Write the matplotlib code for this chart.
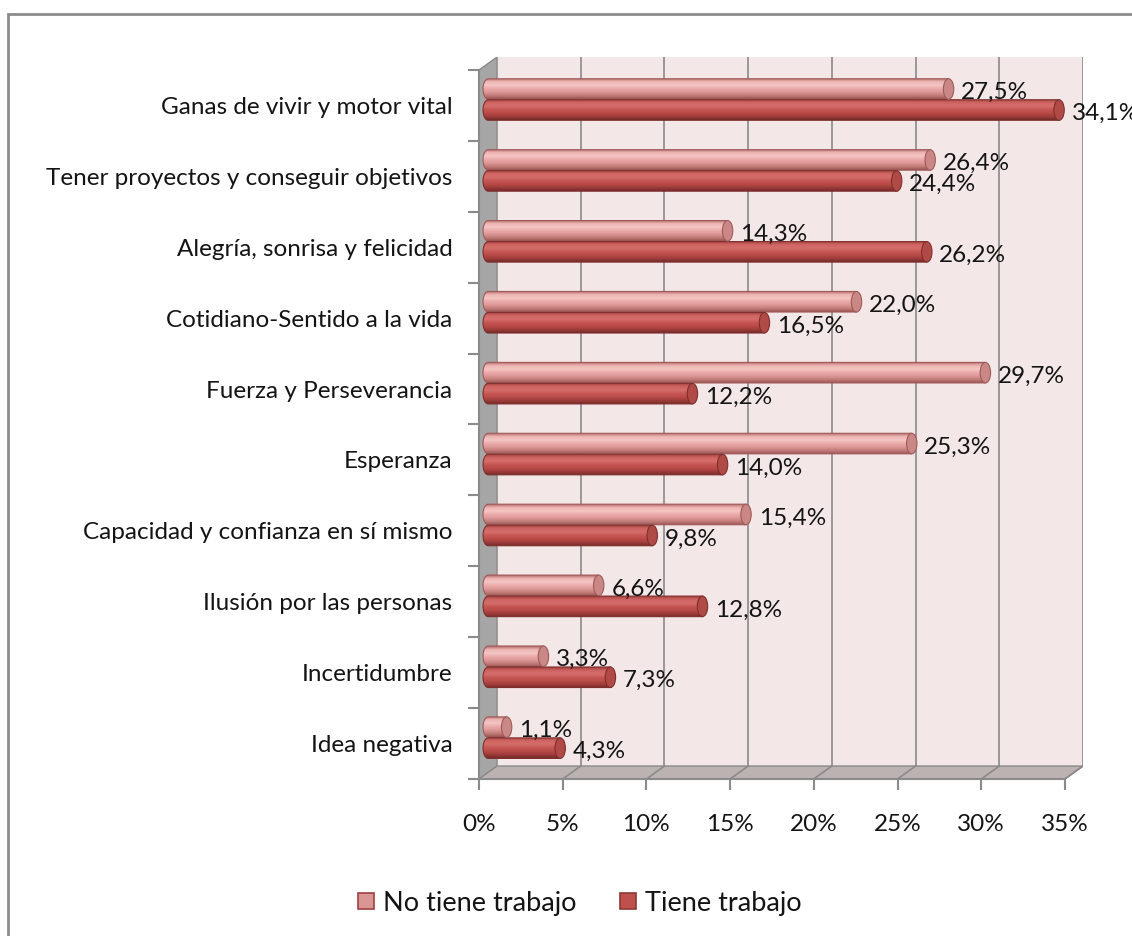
import numpy as np
import matplotlib
matplotlib.use('Agg')
import matplotlib.pyplot as plt
from matplotlib.patches import Polygon, Ellipse, PathPatch, Patch, Rectangle
from matplotlib.path import Path
from matplotlib.colors import LinearSegmentedColormap

plt.rcParams['font.family'] = ['Lato', 'DejaVu Sans']

# data, top to bottom as in the chart
categories = ['Ganas de vivir y motor vital',
              'Tener proyectos y conseguir objetivos',
              'Alegría, sonrisa y felicidad',
              'Cotidiano-Sentido a la vida',
              'Fuerza y Perseverancia',
              'Esperanza',
              'Capacidad y confianza en sí mismo',
              'Ilusión por las personas',
              'Incertidumbre',
              'Idea negativa']
no_trabajo = [27.5, 26.4, 14.3, 22.0, 29.7, 25.3, 15.4, 6.6, 3.3, 1.1]
si_trabajo = [34.1, 24.4, 26.2, 16.5, 12.2, 14.0, 9.8, 12.8, 7.3, 4.3]
series_names = ['No tiene trabajo', 'Tiene trabajo']
xticks = [0, 5, 10, 15, 20, 25, 30, 35]

FS = 17.5
TXT = '#141414'
GRID = '#8a8a8a'

# fake 3d depth (in data units)
DX, DY = 1.08, 0.183
XMAX = 35
n = len(categories)

fig = plt.figure(figsize=(11.32, 9.36), dpi=100)
ax = fig.add_axes([479/1132, 1-779/936, (1083-479)/1132, (779-57)/936])

y0, y1 = -0.5, n - 0.5
# walls
ax.add_patch(Polygon([(DX, y0+DY), (XMAX+DX, y0+DY), (XMAX+DX, y1+DY), (DX, y1+DY)],
                     closed=True, fc='#f4e7e7', ec='none', zorder=0))
ax.add_patch(Polygon([(0, y0), (DX, y0+DY), (DX, y1+DY), (0, y1)],
                     closed=True, fc='#a6a6a6', ec=GRID, lw=1, zorder=1))
ax.add_patch(Polygon([(0, y0), (XMAX, y0), (XMAX+DX, y0+DY), (DX, y0+DY)],
                     closed=True, fc='#bcb2b2', ec=GRID, lw=1, zorder=1))
for t in xticks[1:]:
    ax.plot([t+DX, t+DX], [y0+DY, y1+DY], color=GRID, lw=1.2, zorder=1)
    ax.plot([t, t+DX], [y0, y0+DY], color=GRID, lw=1.2, zorder=1)
ax.plot([0, XMAX], [y0, y0], color=GRID, lw=1.5, zorder=2, clip_on=False)
ax.plot([0, 0], [y0, y1], color=GRID, lw=1.5, zorder=2, clip_on=False)


def cylinder(x0, val, yc, h, grad, cap_fc, edge):
    cw = 0.62
    ang = np.linspace(np.pi/2, 3*np.pi/2, 30)
    pts = [(x0 + cw/2*np.cos(a), yc + h/2*np.sin(a)) for a in ang]
    pts += [(x0+val, yc-h/2), (x0+val, yc+h/2), pts[0]]
    path = Path(pts, closed=True)
    cmap = LinearSegmentedColormap.from_list('g', grad)
    img = cmap(np.linspace(0, 1, 120))[:, None, :3]
    im = ax.imshow(img, extent=[x0-cw/2, x0+val, yc-h/2, yc+h/2], origin='upper',
                   aspect='auto', interpolation='bilinear', zorder=3)
    pp = PathPatch(path, fc='none', ec=edge, lw=0.8, zorder=3.1)
    ax.add_patch(pp)
    im.set_clip_path(pp)
    ax.add_patch(Ellipse((x0+val, yc), cw, h, fc=cap_fc, ec=edge, lw=0.8, zorder=3.2))


pale_grad = ['#b06c6a', '#eeb5b4', '#f4c5c4', '#eaaaa9', '#dc9896', '#c27c7a', '#9a5553']
dark_grad = ['#a44240', '#cf6562', '#d56e6b', '#c65653', '#ba4b48', '#9e3d3b', '#742a28']

BX = 0.55
H = 0.29
for i, cat in enumerate(categories):
    yc = n - 1 - i
    yp = yc + 0.231
    yd = yc - 0.065
    cylinder(BX, no_trabajo[i], yp, H, pale_grad, '#c98886', '#a05a58')
    cylinder(BX, si_trabajo[i], yd, H, dark_grad, '#b04a47', '#7e2f2d')
    for v, yy in ((no_trabajo[i], yp), (si_trabajo[i], yd)):
        ax.text(BX + v + 0.75, yy - 0.05, f'{v:.1f}%'.replace('.', ','),
                ha='left', va='center', fontsize=FS, color=TXT, zorder=5, clip_on=False)

ax.set_xlim(0, XMAX + DX)
ax.set_ylim(y0, y1 + DY)
for s in ax.spines.values():
    s.set_visible(False)

ax.set_xticks(xticks)
ax.set_xticklabels([f'{t}%' for t in xticks])
ax.tick_params(axis='x', length=8, width=1.5, color=GRID, pad=17, labelsize=FS, labelcolor=TXT)

ax.set_yticks(np.arange(y0, y1 + 0.01, 1.0))
ax.set_yticklabels([])
ax.tick_params(axis='y', which='major', length=8, width=1.5, color=GRID)
ax.set_yticks(np.arange(n), minor=True)
ax.set_yticklabels(categories[::-1], minor=True)
ax.tick_params(axis='y', which='minor', length=0, pad=19, labelsize=FS, labelcolor=TXT)

handles = [Patch(fc='#d99694', ec='#a04040', lw=1.2),
           Patch(fc='#c0504d', ec='#8c3836', lw=1.2)]
fig.legend(handles, series_names, loc='center', bbox_to_anchor=(580/1132, 1-903/936),
           ncol=2, frameon=False, fontsize=19.5, handlelength=0.58, handleheight=0.58,
           handletextpad=0.35, columnspacing=1.6, labelcolor=TXT)

fig.add_artist(Rectangle((8/1132, -0.1), 1.2, 1.1 - 14/936, transform=fig.transFigure,
                         fc='none', ec='#8c8c8c', lw=2))

fig.savefig('out.png', dpi=100)
